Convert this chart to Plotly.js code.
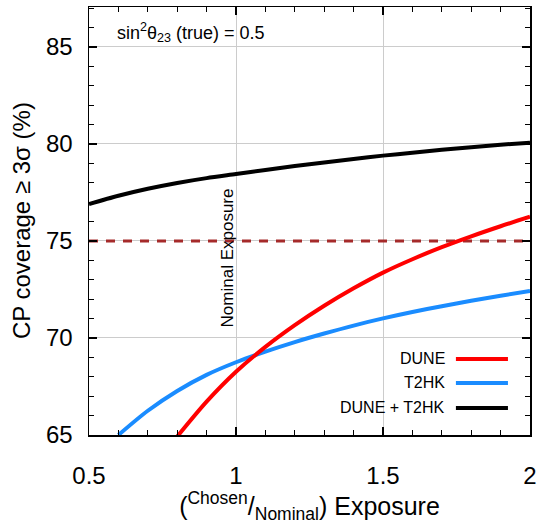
<!DOCTYPE html>
<html><head><meta charset="utf-8">
<script src="https://cdn.plot.ly/plotly-3.0.1.min.js"></script>
<style>html,body{margin:0;padding:0;background:#fff}</style>
</head><body><div id="plot" style="width:543px;height:524px"></div>
<script>
// Exposure ratio (chosen / nominal) and CP coverage (%)
const comboX = [0.5, 0.6, 0.7, 0.8, 0.9, 1.0, 1.1, 1.2, 1.3, 1.4, 1.5, 1.6, 1.7, 1.8, 1.9, 2.0];
const comboY = [76.9, 77.33, 77.69, 77.99, 78.24, 78.45, 78.66, 78.86, 79.05, 79.23, 79.40, 79.55, 79.70, 79.83, 79.96, 80.07];
const duneX = [0.8, 0.9, 1.0, 1.1, 1.2, 1.3, 1.4, 1.5, 1.6, 1.7, 1.8, 1.9, 2.0];
const duneY = [64.92, 66.72, 68.26, 69.54, 70.66, 71.66, 72.56, 73.37, 74.06, 74.68, 75.24, 75.76, 76.25];
const t2hkX = [0.6, 0.7, 0.8, 0.9, 1.0, 1.1, 1.2, 1.3, 1.4, 1.5, 1.6, 1.7, 1.8, 1.9, 2.0];
const t2hkY = [65.0, 66.25, 67.27, 68.10, 68.75, 69.30, 69.79, 70.23, 70.64, 71.01, 71.34, 71.64, 71.92, 72.18, 72.42];
const thresholdX = [0.5, 2.0];
const thresholdY = [75, 75];
const seriesNames = ["DUNE", "T2HK", "DUNE + T2HK"];
const seriesColors = ["#ff0000", "#1a8cff", "#000000"];
const xTicks = [0.5, 1, 1.5, 2];
const xTickText = ["0.5", "1", "1.5", "2"];
const yTicks = [65, 70, 75, 80, 85];

const F = "Liberation Sans, Arial, Helvetica, sans-serif";
const traces = [
  {x: thresholdX, y: thresholdY, mode: "lines", line: {color: "#a52a2a", width: 3, dash: "9px,8px"}, showlegend: false, hoverinfo: "skip"},
  {x: t2hkX, y: t2hkY, mode: "lines", name: seriesNames[1], line: {color: seriesColors[1], width: 4, shape: "spline", smoothing: 0.8}, showlegend: false},
  {x: duneX, y: duneY, mode: "lines", name: seriesNames[0], line: {color: seriesColors[0], width: 4, shape: "spline", smoothing: 0.8}, showlegend: false},
  {x: comboX, y: comboY, mode: "lines", name: seriesNames[2], line: {color: seriesColors[2], width: 4, shape: "spline", smoothing: 0.8}, showlegend: false}
];

// manual legend (text, then the line sample to its right)
const legRows = [0.1776, 0.1215, 0.0631];
const annotations = [
  {xref: "paper", yref: "paper", x: 0.06, y: 0.94, xanchor: "left", yanchor: "middle", showarrow: false,
   text: "sin<sup>2</sup>θ<sub>23</sub> (true) = 0.5", font: {family: F, size: 18, color: "#000"}},
  {xref: "x", yref: "y", x: 1, y: 74.1, xshift: -9, textangle: -90, xanchor: "center", yanchor: "middle", showarrow: false,
   text: "Nominal Exposure", font: {family: F, size: 17, color: "#000"}},
  {xref: "paper", yref: "paper", x: -0.154, y: 0.5, xanchor: "center", yanchor: "middle", textangle: -90, showarrow: false,
   text: "CP coverage ≥ 3σ (%)", font: {family: F, size: 24, color: "#000"}}
];
const shapes = [];
[0, 1, 2].forEach(i => {
  annotations.push({xref: "paper", yref: "paper", x: 0.812, y: legRows[i], xanchor: "right", yanchor: "middle", showarrow: false,
    text: seriesNames[i], font: {family: F, size: 16, color: "#000"}});
  shapes.push({type: "line", xref: "paper", yref: "paper", x0: 0.832, x1: 0.950, y0: legRows[i], y1: legRows[i],
    line: {color: seriesColors[i], width: 4}});
});

const layout = {
  width: 543, height: 524,
  margin: {l: 89, r: 13, t: 7, b: 89},
  paper_bgcolor: "#fff", plot_bgcolor: "#fff",
  font: {family: F, size: 24, color: "#000"},
  showlegend: false,
  xaxis: {
    range: [0.5, 2.0], tickvals: xTicks, ticktext: xTickText,
    ticks: "inside", ticklen: 8, tickwidth: 1.5, tickcolor: "#000",
    showline: true, linecolor: "#000", linewidth: 1.5, mirror: "ticks",
    showgrid: true, gridcolor: "#cccccc", gridwidth: 1, zeroline: false,
    minor: {dtick: 0.1, tick0: 0.5, ticks: "inside", ticklen: 5, tickcolor: "#000", tickwidth: 1, showgrid: false},
    tickfont: {family: F, size: 24}, ticklabelstandoff: 19,
    title: {text: "(<sup>Chosen</sup>/<sub>Nominal</sub>) Exposure", font: {family: F, size: 25}, standoff: 6}
  },
  yaxis: {
    range: [65, 87.06], tickvals: yTicks,
    ticks: "inside", ticklen: 8, tickwidth: 1.5, tickcolor: "#000",
    showline: true, linecolor: "#000", linewidth: 1.5, mirror: "ticks",
    showgrid: true, gridcolor: "#cccccc", gridwidth: 1, zeroline: false,
    minor: {dtick: 1, tick0: 65, ticks: "inside", ticklen: 5, tickcolor: "#000", tickwidth: 1, showgrid: false},
    tickfont: {family: F, size: 24}, ticklabelstandoff: 10
  },
  annotations: annotations,
  shapes: shapes
};
Plotly.newPlot("plot", traces, layout, {displayModeBar: false, staticPlot: true});
</script></body></html>
